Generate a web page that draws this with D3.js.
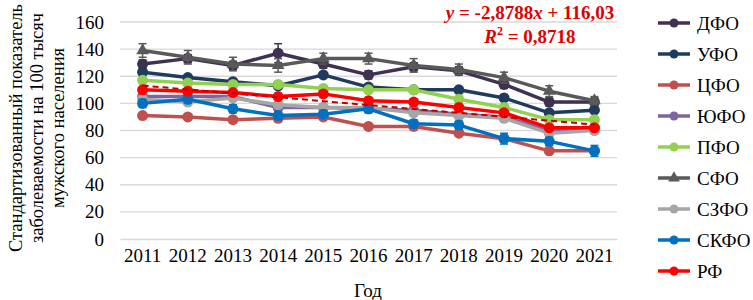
<!DOCTYPE html>
<html>
<head>
<meta charset="utf-8">
<script src="https://cdn.jsdelivr.net/npm/d3@7"></script>
<style>
    body { margin: 0; background: #fff; }
    svg { display: block; }
    svg text { font-family: "Liberation Serif", "Times New Roman", "DejaVu Serif", serif; }
</style>
</head>
<body>
<svg id="chart"></svg>
<script>
const years = ['2011', '2012', '2013', '2014', '2015', '2016', '2017', '2018', '2019', '2020', '2021']
const yTicks = [0, 20, 40, 60, 80, 100, 120, 140, 160]

const dfo = [129, 133, 128, 137, 129, 121, 127, 124, 114, 101, 101]
const ufo = [123, 119, 116, 113, 121, 112, 110, 110, 104, 93, 95]
const cfo = [91, 90, 88, 89, 90, 83, 83, 78, 74, 65, 65]
const yufo = [105, 105, 105, 97, 97, 96, 95, 92, 90, 80, 82]
const pfo = [117, 115, 114, 114, 111, 110, 110, 103, 97, 88, 88]
const sfo = [139, 134, 129, 128, 133, 133, 128, 125, 119, 109, 102]
const szfo = [103, 101, 104, 99, 97, 97, 93, 91, 89, 78, 80]
const skfo = [100, 103, 96, 91, 92, 96, 85, 84, 74, 72, 65]
const rf = [110, 109, 108, 105, 107, 102, 101, 97, 93, 82, 82]

// error bar half-widths
const sfoErr = [5, 5, 5, 5, 4, 4, 5, 4, 4, 4, 3]
const dfoErr = [3, 3, 3, 7, 3, 3, 3, 3, 3, 3, 3]
const skfoErr = [3, 3, 3, 3, 3, 3, 3, 3, 4, 3, 4]

// linear trend for РФ: y = -2.8788x + 116.03
const trendSlope = -2.8788
const trendIntercept = 116.03

const series = [
    { name: 'ДФО', values: dfo, color: '#3f3151', err: dfoErr },
    { name: 'УФО', values: ufo, color: '#1f3b5e' },
    { name: 'ЦФО', values: cfo, color: '#c0504d' },
    { name: 'ЮФО', values: yufo, color: '#8064a2' },
    { name: 'ПФО', values: pfo, color: '#92d050' },
    { name: 'СФО', values: sfo, color: '#595959', err: sfoErr, triangle: true },
    { name: 'СЗФО', values: szfo, color: '#a6a6a6' },
    { name: 'СКФО', values: skfo, color: '#0070c0', err: skfoErr },
    { name: 'РФ', values: rf, color: '#ff0000' },
]

const width = 753
const height = 300
const plot = { left: 120, right: 617, top: 22, bottom: 239 }
const FONT = '"Liberation Serif", "Times New Roman", "DejaVu Serif", serif'

const svg = d3.select('#chart')
    .attr('width', width)
    .attr('height', height)
    .attr('viewBox', [0, 0, width, height].join(' '))
    .attr('font-family', FONT)

const xScale = d3.scaleBand().domain(years).range([plot.left, plot.right])
const yScale = d3.scaleLinear().domain([0, 160]).range([plot.bottom, plot.top])
const cx = d => xScale(d) + xScale.bandwidth() / 2

// gridlines
svg.append('g')
    .selectAll('line')
    .data(yTicks.slice(1))
    .join('line')
    .attr('x1', plot.left)
    .attr('x2', plot.right)
    .attr('y1', d => yScale(d))
    .attr('y2', d => yScale(d))
    .attr('stroke', '#d9d9d9')
    .attr('stroke-width', 1.3)

// axes
const xAxis = svg.append('g')
    .attr('transform', `translate(0,${plot.bottom})`)
    .call(d3.axisBottom(xScale).tickSize(0).tickPadding(10))
    .attr('font-family', FONT)
    .attr('font-size', 19)
xAxis.select('.domain').attr('stroke', '#d9d9d9').attr('stroke-width', 1.3)
xAxis.selectAll('text').attr('fill', '#000')

const yAxis = svg.append('g')
    .attr('transform', `translate(${plot.left},0)`)
    .call(d3.axisLeft(yScale).tickValues(yTicks).tickSize(0).tickPadding(16))
    .attr('font-family', FONT)
    .attr('font-size', 19)
yAxis.select('.domain').remove()
yAxis.selectAll('text').attr('fill', '#000')

// axis titles
svg.append('text')
    .attr('x', 368).attr('y', 297)
    .attr('text-anchor', 'middle')
    .attr('font-size', 19)
    .text('Год')

const yTitle = svg.append('text')
    .attr('transform', 'translate(22,128) rotate(-90)')
    .attr('text-anchor', 'middle')
    .attr('font-size', 18.5)
const titleLines = ['Стандартизованный показатель', 'заболеваемости на 100 тысяч', 'мужского населения']
titleLines.forEach((t, i) => {
    yTitle.append('tspan').attr('x', 0).attr('dy', i === 0 ? 0 : 21).text(t)
})

const line = d3.line()
    .x((d, i) => cx(years[i]))
    .y(d => yScale(d))

// series
series.forEach(s => {
    const g = svg.append('g')
    if (s.err) {
        const eb = g.append('g').attr('stroke', s.color).attr('stroke-width', 1.5)
        s.values.forEach((v, i) => {
            const x = cx(years[i])
            const y1 = yScale(v - s.err[i])
            const y2 = yScale(v + s.err[i])
            eb.append('line').attr('x1', x).attr('x2', x).attr('y1', y1).attr('y2', y2)
            eb.append('line').attr('x1', x - 4).attr('x2', x + 4).attr('y1', y1).attr('y2', y1)
            eb.append('line').attr('x1', x - 4).attr('x2', x + 4).attr('y1', y2).attr('y2', y2)
        })
    }
    g.append('path')
        .datum(s.values)
        .attr('d', line)
        .attr('fill', 'none')
        .attr('stroke', s.color)
        .attr('stroke-width', 3.5)
        .attr('stroke-linejoin', 'round')
    if (s.triangle) {
        g.selectAll('path.mark')
            .data(s.values)
            .join('path')
            .attr('class', 'mark')
            .attr('d', d3.symbol(d3.symbolTriangle, 70))
            .attr('transform', (d, i) => `translate(${cx(years[i])},${yScale(d)})`)
            .attr('fill', s.color)
    } else {
        g.selectAll('circle')
            .data(s.values)
            .join('circle')
            .attr('cx', (d, i) => cx(years[i]))
            .attr('cy', d => yScale(d))
            .attr('r', 5.5)
            .attr('fill', s.color)
    }
})

// trend line
const trend = years.map((y, i) => trendSlope * (i + 1) + trendIntercept)
svg.append('path')
    .datum(trend)
    .attr('d', line)
    .attr('fill', 'none')
    .attr('stroke', '#c00000')
    .attr('stroke-width', 2)
    .attr('stroke-dasharray', '6,4')

// trend equation
const eq = svg.append('text')
    .attr('x', 530).attr('y', 19)
    .attr('text-anchor', 'middle')
    .attr('font-size', 19)
    .attr('font-weight', 'bold')
    .attr('fill', '#e00000')
eq.append('tspan').attr('font-style', 'italic').text('y')
eq.append('tspan').text(' = -2,8788')
eq.append('tspan').attr('font-style', 'italic').text('x')
eq.append('tspan').text(' + 116,03')

const r2 = svg.append('text')
    .attr('x', 530).attr('y', 43)
    .attr('text-anchor', 'middle')
    .attr('font-size', 19)
    .attr('font-weight', 'bold')
    .attr('fill', '#e00000')
r2.append('tspan').attr('font-style', 'italic').text('R')
r2.append('tspan').attr('font-size', 12).attr('dy', -8).text('2')
r2.append('tspan').attr('dy', 8).text(' = 0,8718')

// legend
const legend = svg.append('g')
    .selectAll('g')
    .data(series)
    .join('g')
    .attr('transform', (d, i) => `translate(658,${23 + i * 31})`)

legend.append('line')
    .attr('x1', 0).attr('x2', 32)
    .attr('stroke', d => d.color)
    .attr('stroke-width', 3.5)
legend.each(function (d) {
    const g = d3.select(this)
    if (d.triangle) {
        g.append('path').attr('d', d3.symbol(d3.symbolTriangle, 60)).attr('transform', 'translate(16,0)').attr('fill', d.color)
    } else {
        g.append('circle').attr('cx', 16).attr('r', 4.5).attr('fill', d.color)
    }
})
legend.append('text')
    .attr('x', 39)
    .attr('dy', '0.35em')
    .attr('font-size', 19)
    .text(d => d.name)
</script>
</body>
</html>
